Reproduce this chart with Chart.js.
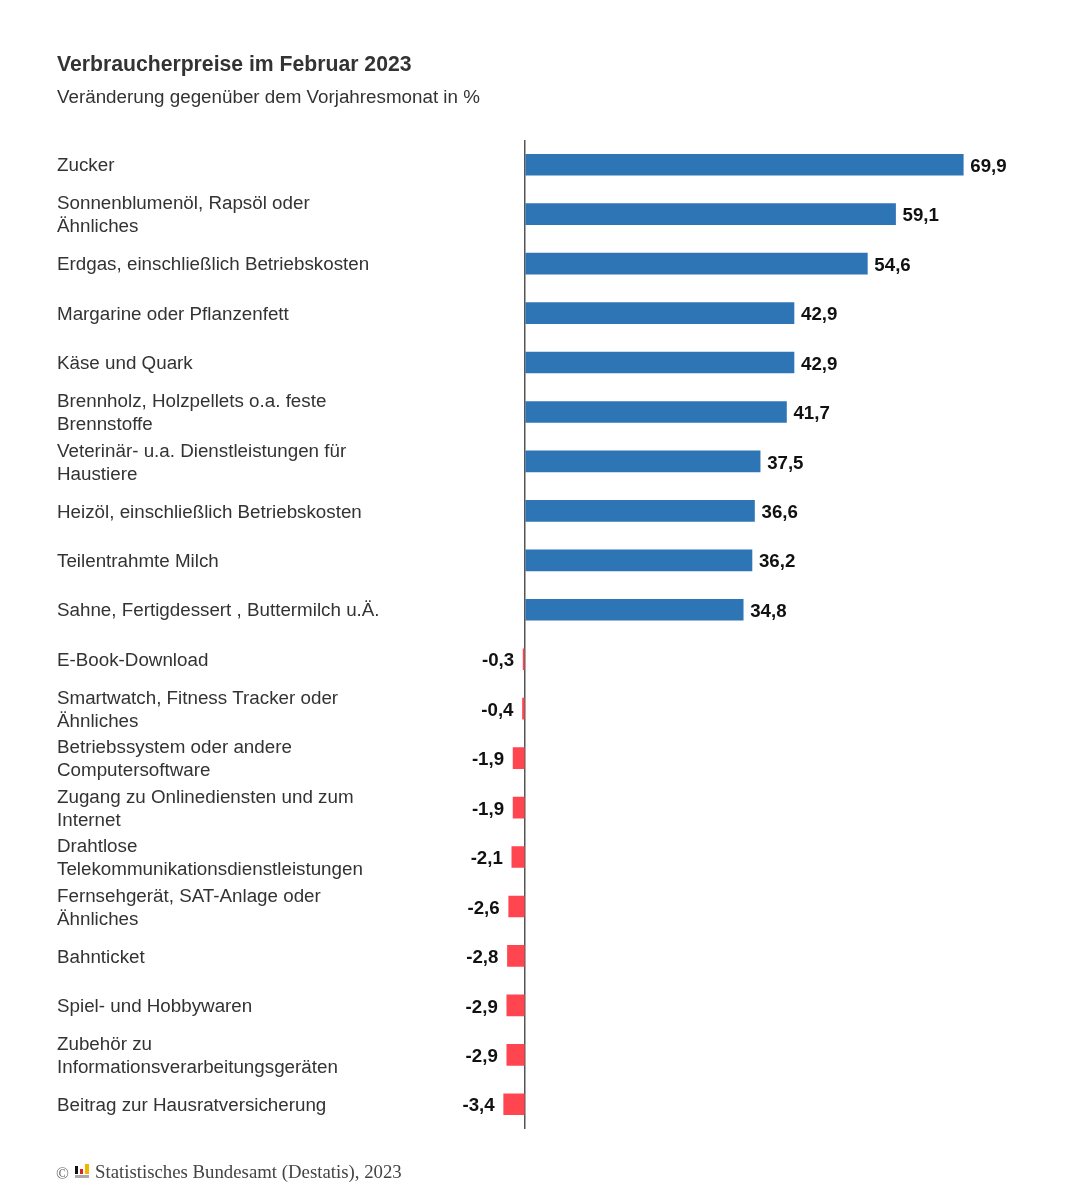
<!DOCTYPE html>
<html lang="de">
<head>
<meta charset="utf-8">
<title>Verbraucherpreise im Februar 2023</title>
<script src="https://cdn.jsdelivr.net/npm/chart.js@4/dist/chart.umd.min.js"></script>
<style>
    body { margin: 0; background: #fff; }
    #wrap { position: relative; width: 1085px; height: 1200px; }
    #footer {
        position: absolute; left: 0; top: 0; width: 1085px; height: 1200px;
        font: 18.8px "Liberation Serif", serif; color: #444; white-space: nowrap;
    }
    #footer span, #footer svg { position: absolute; }
    #footer .c { left: 56px; top: 1164px; font-size: 17px; color: #666; }
    #footer svg { left: 75px; top: 1164px; }
    #footer .t { left: 95px; top: 1161px; }
</style>
</head>
<body>
<div id="wrap">
    <canvas id="preisChart" width="1085" height="1200"></canvas>
    <div id="footer"><span class="c">©</span>
        <svg width="15" height="15" viewBox="0 0 15 15"><rect x="0" y="11" width="14" height="3" fill="#aaa"/><rect x="0" y="2" width="3" height="8" fill="#111"/><rect x="5" y="5" width="3" height="5" fill="#d22"/><rect x="10" y="0" width="4" height="10" fill="#f2b400"/></svg>
        <span class="t">Statistisches Bundesamt (Destatis), 2023</span></div>
</div>
<script>
const categories = [
    'Zucker',
    ['Sonnenblumenöl, Rapsöl oder', 'Ähnliches'],
    'Erdgas, einschließlich Betriebskosten',
    'Margarine oder Pflanzenfett',
    'Käse und Quark',
    ['Brennholz, Holzpellets o.a. feste', 'Brennstoffe'],
    ['Veterinär- u.a. Dienstleistungen für', 'Haustiere'],
    'Heizöl, einschließlich Betriebskosten',
    'Teilentrahmte Milch',
    'Sahne, Fertigdessert , Buttermilch u.Ä.',
    'E-Book-Download',
    ['Smartwatch, Fitness Tracker oder', 'Ähnliches'],
    ['Betriebssystem oder andere', 'Computersoftware'],
    ['Zugang zu Onlinediensten und zum', 'Internet'],
    ['Drahtlose', 'Telekommunikationsdienstleistungen'],
    ['Fernsehgerät, SAT-Anlage oder', 'Ähnliches'],
    'Bahnticket',
    'Spiel- und Hobbywaren',
    ['Zubehör zu', 'Informationsverarbeitungsgeräten'],
    'Beitrag zur Hausratversicherung'
];
const values = [69.9, 59.1, 54.6, 42.9, 42.9, 41.7, 37.5, 36.6, 36.2, 34.8,
    -0.3, -0.4, -1.9, -1.9, -2.1, -2.6, -2.8, -2.9, -2.9, -3.4];

const BLUE = '#2e75b6';
const RED = '#ff4650';

// Werte neben die Balken schreiben
const valueLabels = {
    id: 'valueLabels',
    afterDatasetsDraw(chart) {
        const ctx = chart.ctx;
        const meta = chart.getDatasetMeta(0);
        ctx.save();
        ctx.font = 'bold 18.7px "Liberation Sans", Arial, sans-serif';
        ctx.fillStyle = '#111';
        ctx.textBaseline = 'middle';
        meta.data.forEach(function(bar, i) {
            const v = values[i];
            ctx.textAlign = v < 0 ? 'right' : 'left';
            const x = v < 0 ? bar.x - 9 : bar.x + 7;
            ctx.fillText(v.toFixed(1).replace('.', ','), x, bar.y + 2);
        });
        ctx.restore();
    }
};

const config = {
    type: 'bar',
    data: {
        labels: categories,
        datasets: [{
            data: values,
            backgroundColor: values.map(v => v < 0 ? RED : BLUE),
            barThickness: 21
        }]
    },
    options: {
        indexAxis: 'y',
        responsive: false,
        animation: false,
        layout: { padding: { left: 57, right: 58.4, top: 0, bottom: 71 } },
        scales: {
            x: {
                min: -20,
                max: 80,
                ticks: { display: false, stepSize: 10 },
                border: { display: false },
                grid: {
                    drawTicks: false,
                    lineWidth: 1.5,
                    color: ctx => ctx.tick && ctx.tick.value === 0 ? '#555' : 'transparent'
                }
            },
            y: {
                afterFit(scale) { scale.width = 342.6; },
                border: { display: false },
                grid: { display: false, drawTicks: false },
                ticks: {
                    autoSkip: false,
                    crossAlign: 'far',
                    padding: 0,
                    labelOffset: 1.5,
                    color: '#333',
                    font: { family: '"Liberation Sans", Arial, sans-serif', size: 18.8, lineHeight: 1.225 }
                }
            }
        },
        plugins: {
            legend: { display: false },
            title: {
                display: true,
                text: 'Verbraucherpreise im Februar 2023',
                align: 'start',
                color: '#333',
                font: { family: '"Liberation Sans", Arial, sans-serif', size: 21.2, weight: 'bold', lineHeight: 1.2 },
                padding: { top: 52, bottom: 9.3 }
            },
            subtitle: {
                display: true,
                text: 'Veränderung gegenüber dem Vorjahresmonat in %',
                align: 'start',
                color: '#333',
                font: { family: '"Liberation Sans", Arial, sans-serif', size: 18.8, weight: 'normal', lineHeight: 1.2 },
                padding: { top: 0, bottom: 30.7 }
            }
        }
    },
    plugins: [valueLabels]
};

new Chart(document.getElementById('preisChart'), config);
</script>
</body>
</html>
